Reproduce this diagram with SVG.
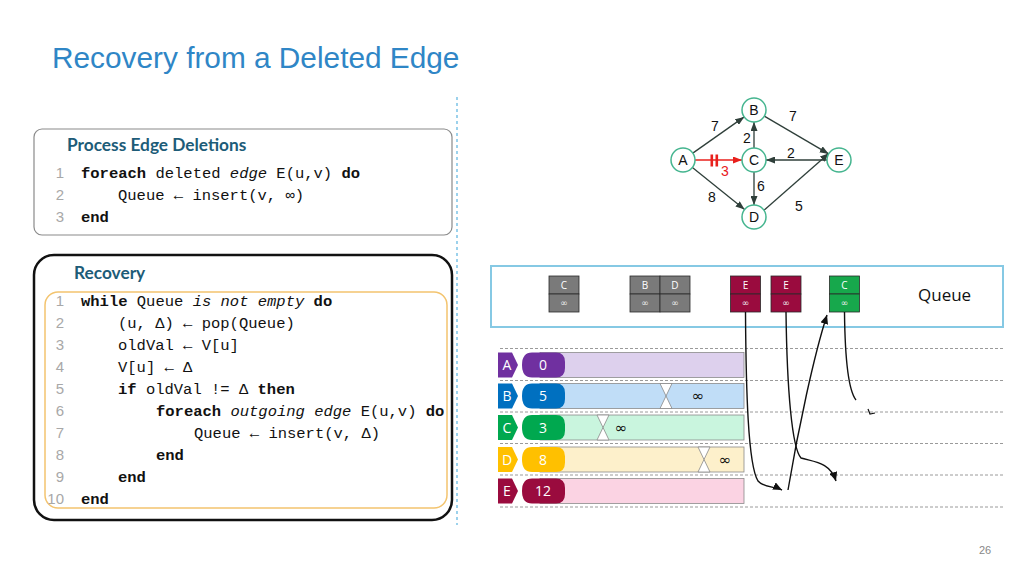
<svg xmlns="http://www.w3.org/2000/svg" width="1024" height="576" viewBox="0 0 1024 576">
<defs>
<marker id="ah" markerUnits="userSpaceOnUse" markerWidth="9" markerHeight="7" refX="9" refY="3.5" orient="auto"><path d="M0,0 L9,3.5 L0,7 z" fill="#2f3f3a"/></marker>
<marker id="ahr" markerUnits="userSpaceOnUse" markerWidth="9" markerHeight="7" refX="9" refY="3.5" orient="auto"><path d="M0,0 L9,3.5 L0,7 z" fill="#e8201c"/></marker>
<marker id="ahk" markerUnits="userSpaceOnUse" markerWidth="9" markerHeight="8" refX="9" refY="4" orient="auto"><path d="M0,0 L9,4 L0,8 z" fill="#111"/></marker>
</defs>
<style>
.title{font-family:"Liberation Sans",Arial,sans-serif;font-size:29.8px;fill:#2f86c6}
.hdr{font-family:Lato,"Liberation Sans",sans-serif;font-size:17.3px;font-weight:bold;fill:#1d5c78}
.code{font-family:"Liberation Mono","DejaVu Sans Mono",monospace;font-size:15.5px;fill:#111}
.ln{font-family:"Liberation Sans",sans-serif;font-size:15px;fill:#a8a8a8;text-anchor:end}
.b{font-weight:bold}
.i{font-style:italic}
.node circle{fill:#fff;stroke:#45b58f;stroke-width:1.5}
.node text{font-family:"Liberation Sans",Arial,sans-serif;font-size:14px;text-anchor:middle;fill:#111}
.wt{font-family:"Liberation Sans",Arial,sans-serif;font-size:14px;fill:#111}
.edge{stroke:#2f3f3a;stroke-width:1.3;fill:none;marker-end:url(#ah)}
.cell{stroke:#2a2a2a;stroke-width:0.8}
.qt{font-family:"Open Sans","Liberation Sans",sans-serif;font-size:10px;fill:#fff;text-anchor:middle}
.qi{font-family:"DejaVu Sans",sans-serif;font-size:9px;fill:#eee;text-anchor:middle}
.lane{stroke:#9a9a9a;stroke-width:1;stroke-dasharray:3,2}
.lbl{font-family:"Open Sans","Liberation Sans",sans-serif;font-size:14px;fill:#fff;text-anchor:middle}
.bar{stroke:#8a8a8a;stroke-width:0.8}
.hg{fill:#fff;stroke:#888;stroke-width:0.8}
.inf{font-family:"DejaVu Sans",sans-serif;font-size:15px;fill:#111;text-anchor:middle}
.curve{stroke:#111;stroke-width:1.4;fill:none}
</style>
<rect width="1024" height="576" fill="#fff"/>
<text class="title" x="52" y="68">Recovery from a Deleted Edge</text>
<line x1="457" y1="97" x2="457" y2="525" stroke="#5ab4e0" stroke-width="1.2" stroke-dasharray="3,3"/>

<g id="box-deletions">
<rect x="34" y="129" width="418" height="106" rx="8" fill="#fff" stroke="#8a8a8a" stroke-width="1.2"/>
<text class="hdr" x="67" y="151">Process Edge Deletions</text>
<text class="ln" x="64" y="178">1</text>
<text class="ln" x="64" y="200">2</text>
<text class="ln" x="64" y="222">3</text>
<text class="code" x="81" y="178"><tspan class="b">foreach</tspan> deleted <tspan class="i">edge</tspan> E(u,v) <tspan class="b">do</tspan></text>
<text class="code" x="118" y="200">Queue ← insert(v, ∞)</text>
<text class="code b" x="81" y="222">end</text>
</g>

<g id="box-recovery">
<rect x="34" y="255" width="418" height="265" rx="20" fill="#fff" stroke="#111" stroke-width="2.5"/>
<text class="hdr" x="74" y="279">Recovery</text>
<rect x="45" y="292" width="402" height="216" rx="13" fill="none" stroke="#f3c46f" stroke-width="1.5"/>
<text class="ln" x="64" y="306">1</text>
<text class="ln" x="64" y="328">2</text>
<text class="ln" x="64" y="350">3</text>
<text class="ln" x="64" y="372">4</text>
<text class="ln" x="64" y="394">5</text>
<text class="ln" x="64" y="416">6</text>
<text class="ln" x="64" y="438">7</text>
<text class="ln" x="64" y="460">8</text>
<text class="ln" x="64" y="482">9</text>
<text class="ln" x="64" y="504">10</text>
<text class="code" x="81" y="306"><tspan class="b">while</tspan> Queue <tspan class="i">is not empty</tspan> <tspan class="b">do</tspan></text>
<text class="code" x="118" y="328">(u, Δ) ← pop(Queue)</text>
<text class="code" x="118" y="350">oldVal ← V[u]</text>
<text class="code" x="118" y="372">V[u] ← Δ</text>
<text class="code" x="118" y="394"><tspan class="b">if</tspan> oldVal != Δ <tspan class="b">then</tspan></text>
<text class="code" x="156" y="416"><tspan class="b">foreach</tspan> <tspan class="i">outgoing edge</tspan> E(u,v) <tspan class="b">do</tspan></text>
<text class="code" x="194" y="438">Queue ← insert(v, Δ)</text>
<text class="code b" x="156" y="460">end</text>
<text class="code b" x="118" y="482">end</text>
<text class="code b" x="81" y="504">end</text>
</g>

<g id="graph-edges">
<line class="edge" x1="692.8" y1="153.1" x2="744.2" y2="116.9"/>
<line class="edge" x1="692.4" y1="167.5" x2="744.6" y2="209.5"/>
<line class="edge" x1="754" y1="148" x2="754" y2="122"/>
<line class="edge" x1="754" y1="172" x2="754" y2="205"/>
<line class="edge" x1="827" y1="160" x2="766" y2="160"/>
<line class="edge" x1="764.3" y1="116.1" x2="828.7" y2="153.9"/>
<line class="edge" x1="764" y1="210.3" x2="829" y2="153.3"/>
<line x1="695" y1="160" x2="742" y2="160" stroke="#e8201c" stroke-width="1.5" marker-end="url(#ahr)"/>
<rect x="710.5" y="154.5" width="2.6" height="12" fill="#e8201c"/>
<rect x="715.5" y="154.5" width="2.6" height="12" fill="#e8201c"/>
<text class="wt" x="711" y="131">7</text>
<text class="wt" x="789" y="121">7</text>
<text class="wt" x="743" y="143">2</text>
<text class="wt" x="787" y="158">2</text>
<text class="wt" x="721" y="176" style="fill:#e8201c">3</text>
<text class="wt" x="757" y="191">6</text>
<text class="wt" x="708" y="202">8</text>
<text class="wt" x="795" y="211">5</text>
</g>
<g id="node-A" class="node"><circle cx="683" cy="160" r="12"/><text x="683" y="165">A</text></g>
<g id="node-B" class="node"><circle cx="754" cy="110" r="12"/><text x="754" y="115">B</text></g>
<g id="node-C" class="node"><circle cx="754" cy="160" r="12"/><text x="754" y="165">C</text></g>
<g id="node-D" class="node"><circle cx="754" cy="217" r="12"/><text x="754" y="222">D</text></g>
<g id="node-E" class="node"><circle cx="839" cy="160" r="12"/><text x="839" y="165">E</text></g>

<g id="queue">
<rect x="491" y="266" width="512" height="61" fill="#fff" stroke="#86c9e4" stroke-width="2"/>
<text x="918" y="301" font-family="'Open Sans','Liberation Sans',sans-serif" font-size="17" fill="#111">Queue</text>
<g id="q-C1"><rect class="cell" x="549" y="276" width="30" height="18" fill="#7a7a7a"/><rect class="cell" x="549" y="294" width="30" height="18" fill="#7a7a7a"/><text class="qt" x="564" y="289">C</text><text class="qi" x="564" y="306">∞</text></g>
<g id="q-B"><rect class="cell" x="630" y="276" width="30" height="18" fill="#7a7a7a"/><rect class="cell" x="630" y="294" width="30" height="18" fill="#7a7a7a"/><text class="qt" x="645" y="289">B</text><text class="qi" x="645" y="306">∞</text></g>
<g id="q-D"><rect class="cell" x="660" y="276" width="30" height="18" fill="#7a7a7a"/><rect class="cell" x="660" y="294" width="30" height="18" fill="#7a7a7a"/><text class="qt" x="675" y="289">D</text><text class="qi" x="675" y="306">∞</text></g>
<g id="q-E1"><rect class="cell" x="730.5" y="276" width="30" height="18" fill="#9a0b3e"/><rect class="cell" x="730.5" y="294" width="30" height="18" fill="#9a0b3e"/><text class="qt" x="745.5" y="289">E</text><text class="qi" x="745.5" y="306">∞</text></g>
<g id="q-E2"><rect class="cell" x="771" y="276" width="30" height="18" fill="#9a0b3e"/><rect class="cell" x="771" y="294" width="30" height="18" fill="#9a0b3e"/><text class="qt" x="786" y="289">E</text><text class="qi" x="786" y="306">∞</text></g>
<g id="q-C2"><rect class="cell" x="829.5" y="276" width="30" height="18" fill="#17a84c"/><rect class="cell" x="829.5" y="294" width="30" height="18" fill="#17a84c"/><text class="qt" x="844.5" y="289">C</text><text class="qi" x="844.5" y="306">∞</text></g>
</g>

<g id="lanes">
<line class="lane" x1="500" y1="348.5" x2="1005" y2="348.5"/>
<line class="lane" x1="500" y1="380.5" x2="1005" y2="380.5"/>
<line class="lane" x1="500" y1="412" x2="1005" y2="412"/>
<line class="lane" x1="500" y1="443.5" x2="1005" y2="443.5"/>
<line class="lane" x1="500" y1="475" x2="1005" y2="475"/>
<line class="lane" x1="500" y1="507" x2="1005" y2="507"/>
</g>

<g id="row-A">
<rect class="bar" x="540" y="352.5" width="204" height="25" fill="#ddd0ed"/>
<path d="M532,352.5 H556 Q565,352.5 565,362 V368 Q565,377.5 556,377.5 H532 Q522,377.5 522,365 Q522,352.5 532,352.5 z" fill="#7030a0"/>
<polygon points="498,352.5 512,352.5 518,365 512,377.5 498,377.5" fill="#7030a0"/>
<text class="lbl" x="507" y="370">A</text><text class="lbl" x="543" y="370">0</text>
</g>
<g id="row-B">
<rect class="bar" x="540" y="383.5" width="204" height="25" fill="#c0ddf7"/>
<path d="M532,383.5 H556 Q565,383.5 565,393 V399 Q565,408.5 556,408.5 H532 Q522,408.5 522,396 Q522,383.5 532,383.5 z" fill="#0070c0"/>
<polygon points="498,383.5 512,383.5 518,396 512,408.5 498,408.5" fill="#0070c0"/>
<text class="lbl" x="507" y="401">B</text><text class="lbl" x="543" y="401">5</text>
<polygon class="hg" points="660,383.5 672,383.5 666,396 672,408.5 660,408.5 666,396"/>
<text class="inf" x="698" y="401">∞</text>
</g>
<g id="row-C">
<rect class="bar" x="540" y="415" width="204" height="25" fill="#c9f5de"/>
<path d="M532,415 H556 Q565,415 565,424.5 V430.5 Q565,440 556,440 H532 Q522,440 522,427.5 Q522,415 532,415 z" fill="#00a84f"/>
<polygon points="498,415 512,415 518,427.5 512,440 498,440" fill="#00a84f"/>
<text class="lbl" x="507" y="432.5">C</text><text class="lbl" x="543" y="432.5">3</text>
<polygon class="hg" points="597,415 609,415 603,427.5 609,440 597,440 603,427.5"/>
<text class="inf" x="621" y="432.5">∞</text>
</g>
<g id="row-D">
<rect class="bar" x="540" y="447" width="204" height="25" fill="#fdf0cb"/>
<path d="M532,447 H556 Q565,447 565,456.5 V462.5 Q565,472 556,472 H532 Q522,472 522,459.5 Q522,447 532,447 z" fill="#ffc000"/>
<polygon points="498,447 512,447 518,459.5 512,472 498,472" fill="#ffc000"/>
<text class="lbl" x="507" y="464.5">D</text><text class="lbl" x="543" y="464.5">8</text>
<polygon class="hg" points="698,447 710,447 704,459.5 710,472 698,472 704,459.5"/>
<text class="inf" x="725" y="464.5">∞</text>
</g>
<g id="row-E">
<rect class="bar" x="540" y="478.5" width="204" height="25" fill="#fbd3e3"/>
<path d="M532,478.5 H556 Q565,478.5 565,488 V494 Q565,503.5 556,503.5 H532 Q522,503.5 522,491 Q522,478.5 532,478.5 z" fill="#9a0b3e"/>
<polygon points="498,478.5 512,478.5 518,491 512,503.5 498,503.5" fill="#9a0b3e"/>
<text class="lbl" x="507" y="496">E</text><text class="lbl" x="543" y="496">12</text>
</g>

<g id="connectors">
<path class="curve" d="M745.5,312 C746,390 748,465 758,481 C764,488 774,486 782,490" marker-end="url(#ahk)"/>
<path class="curve" d="M786,312 C787,390 792,448 801,458 C814,462 830,462 836,481" marker-end="url(#ahk)"/>
<path class="curve" d="M788,490 C798,430 814,355 827,315" marker-end="url(#ahk)"/>
<path class="curve" d="M844.5,312 C845,360 848,390 856,400"/>
<path d="M868,409 L870,414 L875,413" fill="none" stroke="#111" stroke-width="1.2"/>
</g>

<text x="979" y="554" font-family="'Liberation Sans',sans-serif" font-size="11" fill="#888">26</text>
</svg>
